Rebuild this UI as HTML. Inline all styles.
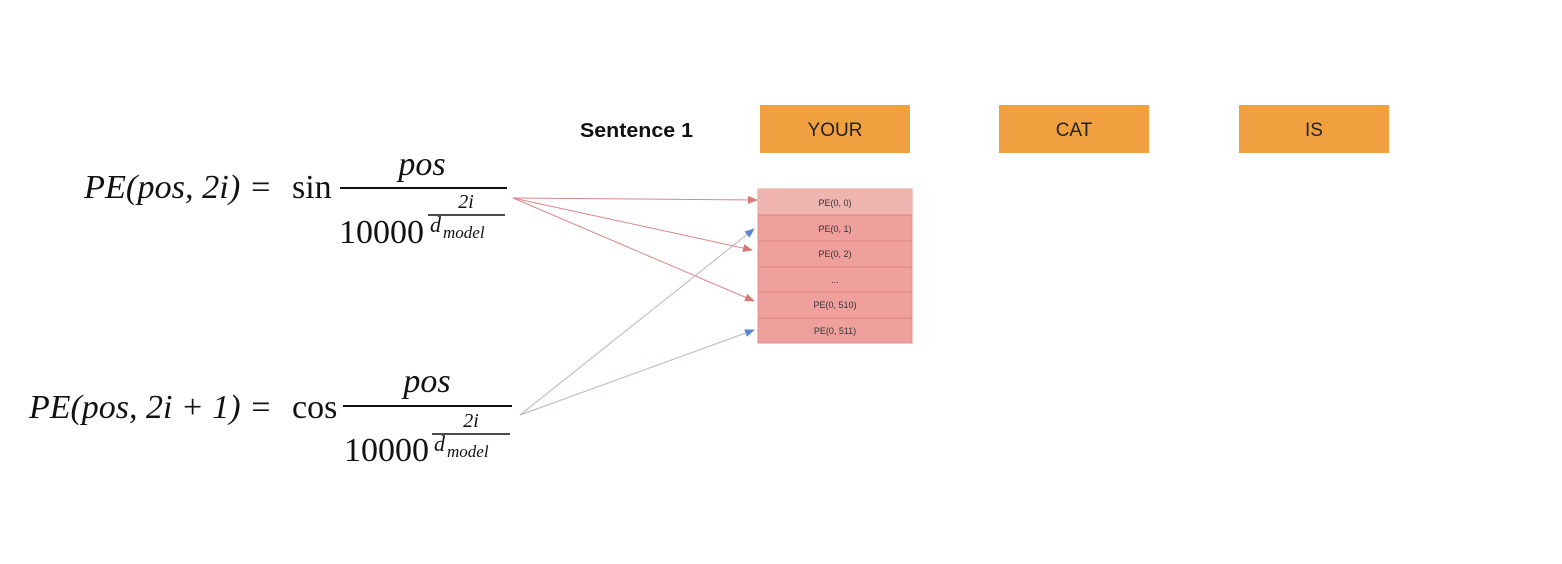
<!DOCTYPE html>
<html><head><meta charset="utf-8"><style>
html,body{margin:0;padding:0;background:#fff;width:1562px;height:564px;overflow:hidden}
svg{display:block}
.m{font-family:"Liberation Serif","DejaVu Serif",serif;font-style:italic;fill:#111}
.r{font-family:"Liberation Serif","DejaVu Serif",serif;fill:#111}
.s{font-family:"Liberation Sans",sans-serif}
</style></head><body>
<svg width="1562" height="564" viewBox="0 0 1562 564" xmlns="http://www.w3.org/2000/svg">
<defs>
<marker id="ar" markerWidth="10" markerHeight="8" refX="9" refY="4" orient="auto" markerUnits="userSpaceOnUse"><path d="M0,0 L10,4 L0,8z" fill="#d57a78"/></marker>
<marker id="ab" markerWidth="10" markerHeight="8" refX="9" refY="4" orient="auto" markerUnits="userSpaceOnUse"><path d="M0,0 L10,4 L0,8z" fill="#5b86d6"/></marker>
</defs>
<text x="580" y="137" class="s" font-size="20" font-weight="bold" fill="#111" textLength="113" lengthAdjust="spacingAndGlyphs">Sentence 1</text>
<g class="s" font-size="19" fill="#222" text-anchor="middle">
<rect x="760" y="105" width="150" height="48" fill="#f0a03e"/><text x="835" y="136">YOUR</text>
<rect x="999" y="105" width="150" height="48" fill="#f0a03e"/><text x="1074" y="136">CAT</text>
<rect x="1239" y="105" width="150" height="48" fill="#f0a03e"/><text x="1314" y="136">IS</text>
</g>
<rect x="758" y="189" width="154" height="154" fill="#efa09c" stroke="#e39490"/>
<rect x="758" y="189" width="154" height="26" fill="#f0b4b0"/>
<g stroke="#dc8a86" stroke-width="1.2">
<line x1="758" y1="215" x2="912" y2="215"/><line x1="758" y1="241" x2="912" y2="241"/><line x1="758" y1="267" x2="912" y2="267"/><line x1="758" y1="292" x2="912" y2="292"/><line x1="758" y1="318" x2="912" y2="318"/>
</g>
<g class="s" font-size="9" fill="#333" text-anchor="middle">
<text x="835" y="206">PE(0, 0)</text><text x="835" y="232">PE(0, 1)</text><text x="835" y="257">PE(0, 2)</text><text x="835" y="283">...</text><text x="835" y="308">PE(0, 510)</text><text x="835" y="334">PE(0, 511)</text>
</g>
<g stroke-width="1" fill="none">
<line x1="513" y1="198" x2="757" y2="200" stroke="#d88a88" marker-end="url(#ar)"/>
<line x1="513" y1="198" x2="752" y2="250" stroke="#d88a88" marker-end="url(#ar)"/>
<line x1="513" y1="198" x2="754" y2="301" stroke="#d88a88" marker-end="url(#ar)"/>
<line x1="520" y1="415" x2="754" y2="229" stroke="#c0b0c0" marker-end="url(#ab)"/>
<line x1="520" y1="415" x2="754" y2="330" stroke="#c0b0c0" marker-end="url(#ab)"/>
</g>
<text x="84" y="198" class="m" font-size="34" textLength="188" lengthAdjust="spacingAndGlyphs">PE(pos, 2i) =</text>
<text x="292" y="198" class="r" font-size="34">sin</text>
<line x1="340" y1="188" x2="507" y2="188" stroke="#111" stroke-width="2"/>
<text x="422" y="175" class="m" font-size="34" text-anchor="middle">pos</text>
<text x="339" y="243" class="r" font-size="34">10000</text>
<text x="466" y="208" class="m" font-size="20" text-anchor="middle">2i</text>
<line x1="428" y1="215" x2="505" y2="215" stroke="#111" stroke-width="1.5"/>
<text x="430" y="232" class="m" font-size="22">d</text><text x="443" y="238" class="m" font-size="17">model</text>
<text x="29" y="418" class="m" font-size="34" textLength="243" lengthAdjust="spacingAndGlyphs">PE(pos, 2i + 1) =</text>
<text x="292" y="418" class="r" font-size="34">cos</text>
<line x1="343" y1="406" x2="512" y2="406" stroke="#111" stroke-width="2"/>
<text x="427" y="392" class="m" font-size="34" text-anchor="middle">pos</text>
<text x="344" y="461" class="r" font-size="34">10000</text>
<text x="471" y="427" class="m" font-size="20" text-anchor="middle">2i</text>
<line x1="432" y1="434" x2="510" y2="434" stroke="#111" stroke-width="1.5"/>
<text x="434" y="451" class="m" font-size="22">d</text><text x="447" y="457" class="m" font-size="17">model</text>
</svg>
</body></html>
